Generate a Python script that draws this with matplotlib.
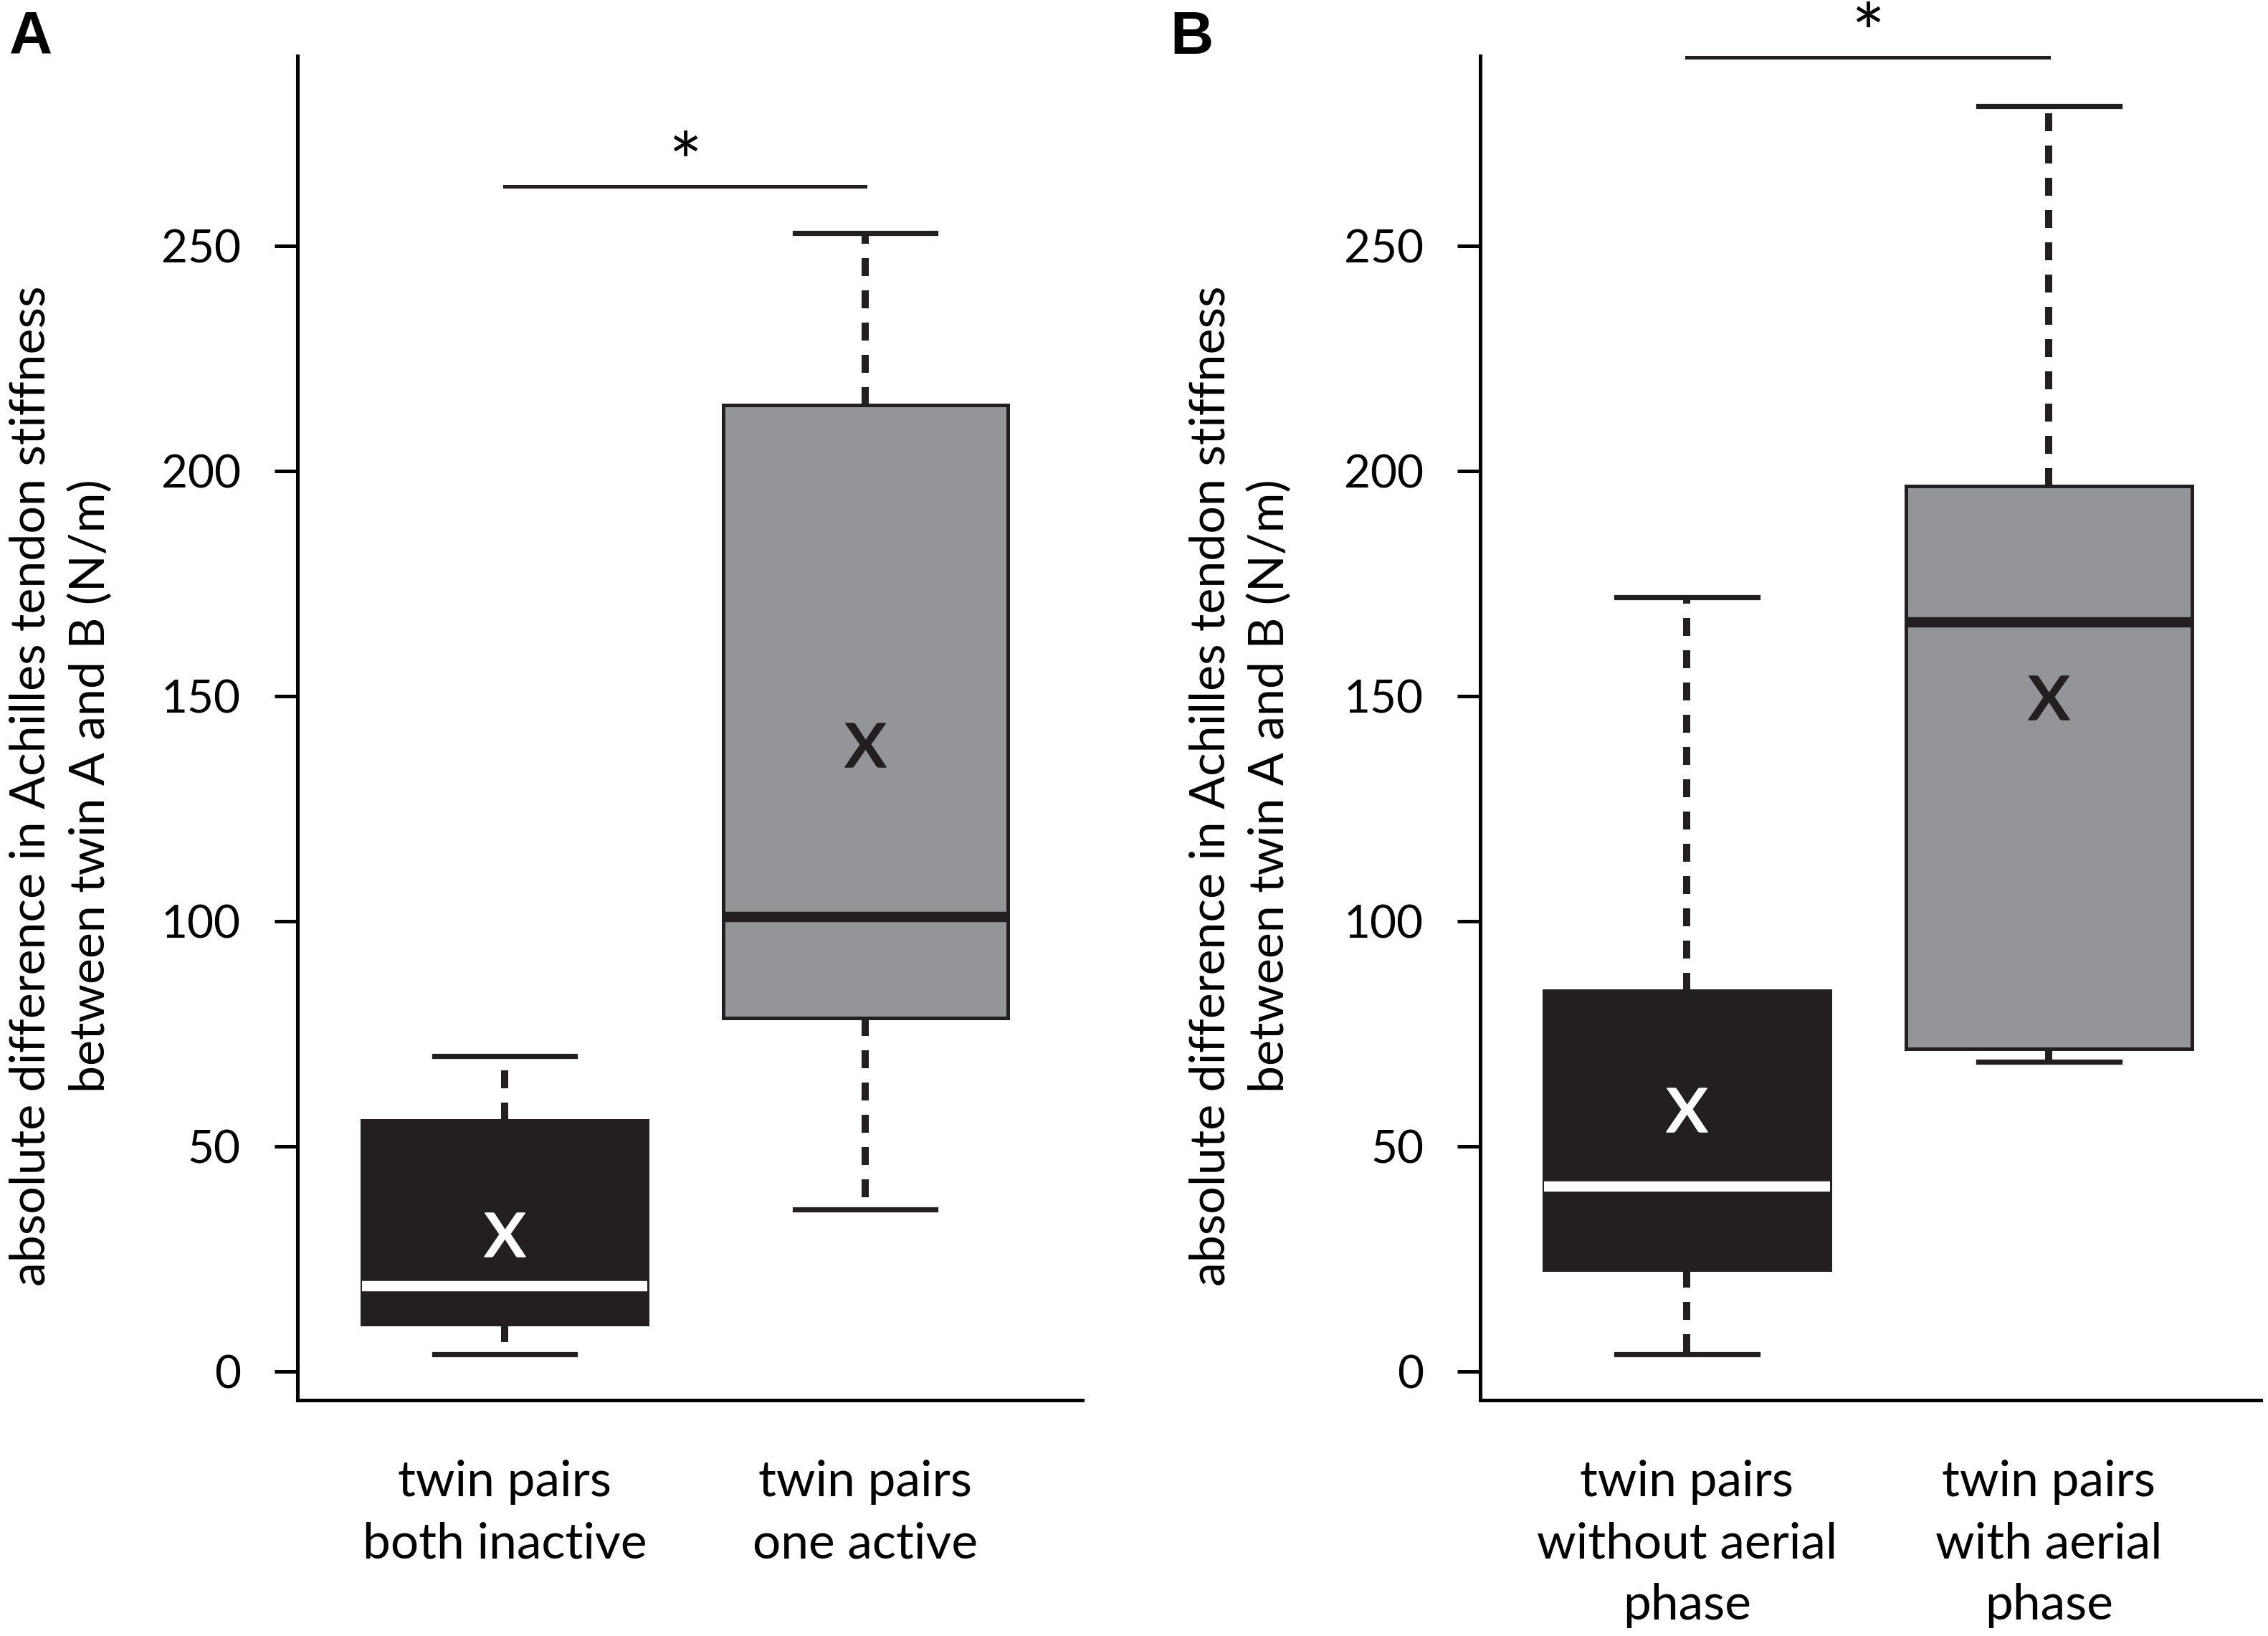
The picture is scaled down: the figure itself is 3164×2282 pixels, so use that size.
import numpy as np
import matplotlib
matplotlib.use("Agg")
import matplotlib.pyplot as plt

plt.rcParams['font.family'] = ['Lato', 'DejaVu Sans']
plt.rcParams['mathtext.fontset'] = 'custom'
plt.rcParams['mathtext.rm'] = 'Lato'

# Panel A: activity level
cats_a = ["twin pairs\nboth inactive", "twin pairs\none active"]
q1_a = [10.5, 78.5]
med_a = [18.9, 100.9]
q3_a = [55.7, 214.6]
lo_a = [3.8, 35.9]
hi_a = [70.1, 252.9]
mean_a = [30.4, 139.2]

# Panel B: aerial phase
cats_b = ["twin pairs\nwithout aerial\nphase", "twin pairs\nwith aerial\nphase"]
q1_b = [22.5, 71.7]
med_b = [41.1, 166.4]
q3_b = [84.6, 196.7]
lo_b = [3.8, 68.8]
hi_b = [172.0, 281.0]
mean_b = [58.1, 149.7]

sig_a = (263.2, "*")
sig_b = (291.9, "*")

yticks = [0, 50, 100, 150, 200, 250]
ylabel = "absolute difference in Achilles tendon stiffness\nbetween twin A and B (N/m)"

box_colors = ["#231f20", "#939598"]
inner_colors = ["white", "#231f20"]


def draw_panel(ax, cats, q1, med, q3, lo, hi, mean, sig):
    stats = []
    for i in range(len(cats)):
        stats.append(dict(q1=q1[i], med=med[i], q3=q3[i], whislo=lo[i],
                          whishi=hi[i], mean=mean[i], fliers=[]))
    pos = [1, 2]
    bp = ax.bxp(stats, positions=pos, widths=0.79, capwidths=0.39,
                patch_artist=True, showmeans=True, showfliers=False,
                manage_ticks=False,
                boxprops=dict(linewidth=1.8, edgecolor="#231f20"),
                whiskerprops=dict(linewidth=3.6, linestyle=(0, (2.5, 2)), color="#231f20"),
                capprops=dict(linewidth=2.6, color="#231f20"),
                medianprops=dict(linewidth=5.2, solid_capstyle='butt'),
                meanprops=dict(marker=r'$\mathrm{x}$', markersize=22,
                               markeredgewidth=0.5, linestyle='none'))
    for i in range(len(cats)):
        bp['boxes'][i].set_facecolor(box_colors[i])
        bp['medians'][i].set_color(inner_colors[i])
        bp['means'][i].set_markerfacecolor(inner_colors[i])
        bp['means'][i].set_markeredgecolor(inner_colors[i])
        bp['means'][i].set_zorder(5)

    # significance bracket
    ax.plot(pos, [sig[0], sig[0]], color="#231f20", lw=1.8, clip_on=False)
    ax.text(np.mean(pos), sig[0] - 1, sig[1], ha='center', va='baseline',
            fontsize=40, clip_on=False)

    ax.set_xticks(pos)
    ax.set_xticklabels(cats, fontsize=25, linespacing=1.45)
    ax.tick_params(axis='x', length=0, pad=30)
    ax.set_yticks(yticks)
    ax.tick_params(axis='y', labelsize=23, length=11.5, width=1.8, pad=17)
    ax.set_ylim(-6.4, 292.2)
    for s in ['top', 'right']:
        ax.spines[s].set_visible(False)
    for s in ['left', 'bottom']:
        ax.spines[s].set_linewidth(1.8)


fig = plt.figure(figsize=(15.82, 11.41), dpi=200)
ax_a = fig.add_axes([0.1312, 0.1442, 0.3461, 0.8216])
ax_b = fig.add_axes([0.6527, 0.1442, 0.3442, 0.8216])

draw_panel(ax_a, cats_a, q1_a, med_a, q3_a, lo_a, hi_a, mean_a, sig_a)
ax_a.set_xlim(0.4254, 2.602)
draw_panel(ax_b, cats_b, q1_b, med_b, q3_b, lo_b, hi_b, mean_b, sig_b)
ax_b.set_xlim(0.4297, 2.586)

fig.text(0.0269, 0.5197, ylabel, rotation=90, ha='center', va='center',
         fontsize=24.5, linespacing=1.4)
fig.text(0.547, 0.5197, ylabel, rotation=90, ha='center', va='center',
         fontsize=24.5, linespacing=1.4)

fig.text(0.004, 0.994, "A", fontsize=30, fontweight='bold',
         family='Liberation Sans', ha='left', va='top')
fig.text(0.516, 0.994, "B", fontsize=30, fontweight='bold',
         family='Liberation Sans', ha='left', va='top')

fig.savefig("out.png", dpi=200)
